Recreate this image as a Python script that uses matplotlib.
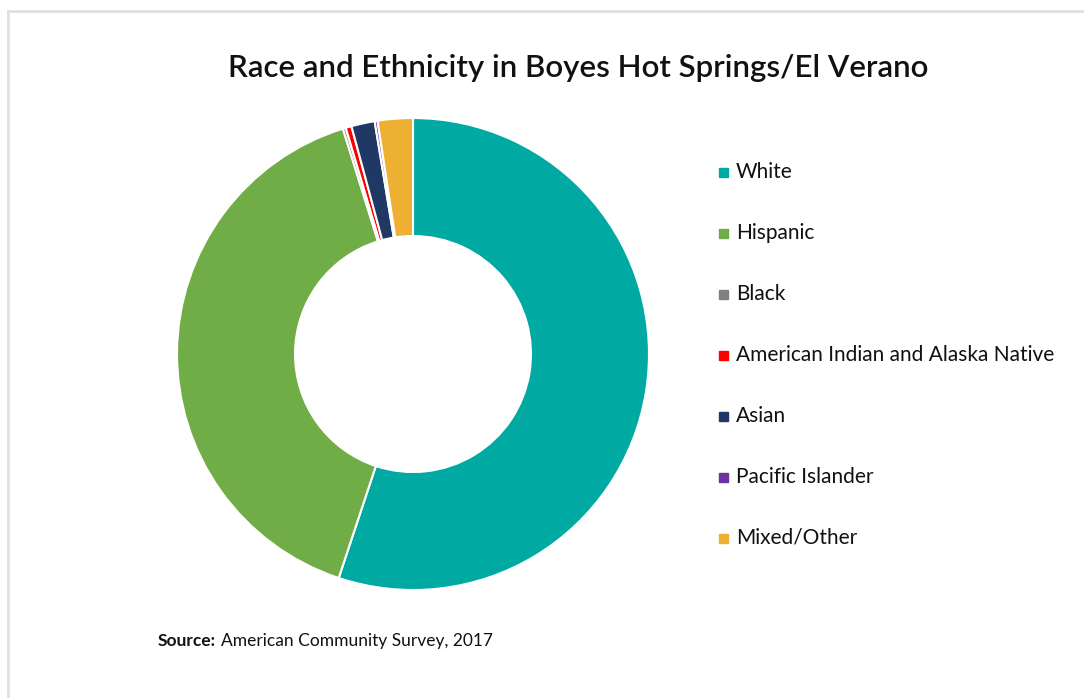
import matplotlib.pyplot as plt
from matplotlib.lines import Line2D

# Race / ethnicity shares (percent)
labels = ["White", "Hispanic", "Black", "American Indian and Alaska Native",
          "Asian", "Pacific Islander", "Mixed/Other"]
shares = [55.1, 40.1, 0.2, 0.4, 1.6, 0.2, 2.4]
colors = ["#00A9A1", "#70AD47", "#808080", "#FF0000", "#1F3864", "#7030A0", "#EDB032"]

plt.rcParams['font.family'] = ['Lato', 'DejaVu Sans']

fig = plt.figure(figsize=(10.84, 6.98), dpi=100)

# donut axes: centre ~ (413, 354) px, radius ~236 px
ax = fig.add_axes([0.1633, 0.1547, 0.4354, 0.6762])
wedges, _ = ax.pie(shares, colors=colors, startangle=90, counterclock=False,
                   radius=1.0, wedgeprops=dict(width=0.5, edgecolor="white", linewidth=1.5))
ax.set_xlim(-1, 1)
ax.set_ylim(-1, 1)
ax.set_aspect("equal")
ax.axis("off")

fig.text(0.533, 0.902, "Race and Ethnicity in Boyes Hot Springs/El Verano",
         ha="center", va="center", fontsize=22.5, fontweight="semibold", color="#111111")

# legend drawn by hand, one row every 61 px
for i, (lab, col) in enumerate(zip(labels, colors)):
    y = 1 - (172 + 61 * i) / 698
    fig.patches.append(plt.Rectangle((719 / 1084, y - 4.5 / 698), 9 / 1084, 9 / 698,
                                     transform=fig.transFigure, color=col, figure=fig))
    fig.text(736 / 1084, y, lab, ha="left", va="center", fontsize=15, color="#111111")

fig.text(158 / 1084, 1 - 641 / 698, "Source:", ha="left", va="center",
         fontsize=12.5, fontweight="bold", color="#111111")
fig.text(221 / 1084, 1 - 641 / 698, "American Community Survey, 2017", ha="left",
         va="center", fontsize=12.5, color="#111111")

# light grey frame (top and left only)
fig.add_artist(Line2D([8 / 1084, 1], [1 - 11 / 698, 1 - 11 / 698], color="#e0e0e0", lw=2,
                      transform=fig.transFigure))
fig.add_artist(Line2D([8 / 1084, 8 / 1084], [0, 1 - 11 / 698], color="#e0e0e0", lw=2,
                      transform=fig.transFigure))

fig.savefig("out.png", dpi=100)
